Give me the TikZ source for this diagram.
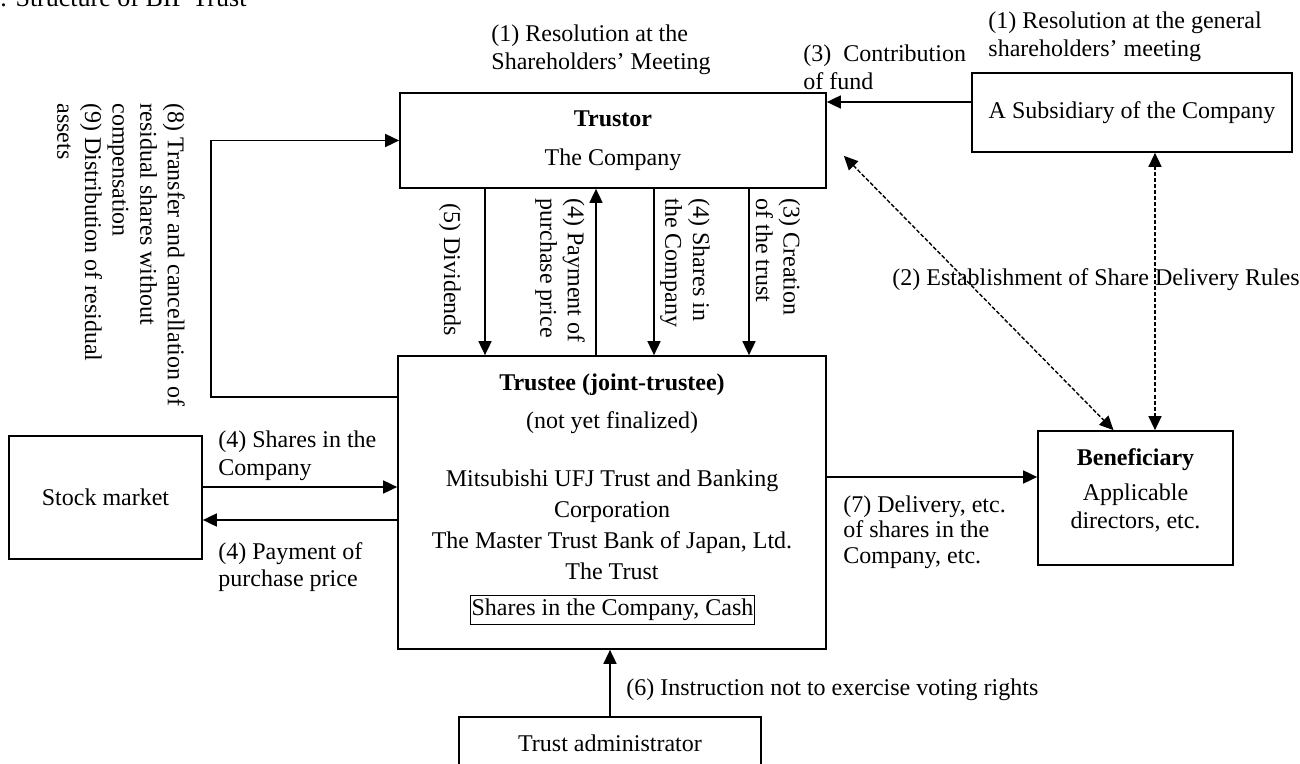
\documentclass[tikz,border=0pt]{standalone}
\usepackage{fontspec}
\setmainfont{Liberation Serif}
\usetikzlibrary{arrows.meta,positioning}

\begin{document}
\begin{tikzpicture}[x=0.5pt,y=-0.5pt,font=\fontsize{12}{13.8}\selectfont,
    box/.style={draw,line width=0.85pt,align=center,inner sep=0pt},
    arr/.style={-{Triangle[length=7pt,width=6.5pt]},line width=0.85pt},
    dasharr/.style={{Triangle[length=7pt,width=6.5pt]}-{Triangle[length=7pt,width=6.5pt]},
                    line width=0.7pt,dash pattern=on 2pt off 1pt},
    lbl/.style={align=left,inner sep=0pt}]

  \useasboundingbox (0,0) rectangle (1300,764);

  \node[anchor=base west,inner sep=0pt,font=\fontsize{13}{15}\selectfont] (title) at (0,7) {. Structure of BIP Trust};

  % boxes
  \node[box,minimum width=213pt,minimum height=47.5pt] (trustor) at (613,140.5) {\textbf{Trustor}\\[5.7pt]The Company};
  \node[box,minimum width=160pt,minimum height=39.5pt] (subsidiary) at (1132,112.5) {A Subsidiary of the Company};
  \node[box,minimum width=214pt,minimum height=146.5pt] (trustee) at (612,502.5) {};
  \node[anchor=north,align=center,inner sep=0pt,font=\fontsize{12}{15.5}\selectfont] (trusteetext) at (612,373)
       {\textbf{Trustee (joint-trustee)}\\[3.5pt](not yet finalized)\\[13.5pt]Mitsubishi UFJ Trust and Banking\\Corporation\\The Master Trust Bank of Japan, Ltd.\\The Trust};
  \node[box,inner xsep=0.5pt,inner ysep=1.75pt] (cash) at (612.5,610) {Shares in the Company, Cash};
  \node[box,minimum width=97.5pt,minimum height=67pt] (beneficiary) at (1135.5,498) {\textbf{Beneficiary}\\[4pt]Applicable\\directors, etc.\\[-4pt]};
  \node[box,minimum width=96.5pt,minimum height=61.5pt] (stock) at (105.5,497.5) {Stock market};
  \node[box,minimum width=151pt,minimum height=26pt] (admin) at (610,743) {Trust administrator};

  % labels
  \node[lbl,anchor=west] (resolution) at (491,50) {(1) Resolution at the\\Shareholders’ Meeting};
  \node[lbl,anchor=west] (contribution) at (803,67.5) {(3)~ Contribution\\of fund};
  \node[lbl,anchor=west] (general) at (988,36.5) {(1) Resolution at the general\\shareholders’ meeting};
  \node[lbl,anchor=west] (rules) at (892,280) {(2) Establishment of Share Delivery Rules};
  \node[lbl,anchor=west,rotate=-90] (residual) at (121,103)
       {(8) Transfer and cancellation of\\residual shares without\\compensation\\(9) Distribution of residual\\assets};
  \node[lbl,anchor=west,rotate=-90] (dividends) at (450,203) {(5) Dividends};
  \node[lbl,anchor=west,rotate=-90] (payment) at (560,198) {(4) Payment of\\purchase price};
  \node[lbl,anchor=west,rotate=-90] (shares) at (685,198) {(4) Shares in\\the Company};
  \node[lbl,anchor=west,rotate=-90] (creation) at (778,198) {(3) Creation\\of the trust};
  \node[lbl,anchor=west] (sharesmkt) at (218,456) {(4) Shares in the\\Company};
  \node[lbl,anchor=west] (paymentmkt) at (218,567) {(4) Payment of\\purchase price};
  \node[lbl,anchor=west,font=\fontsize{12}{12.8}\selectfont] (delivery) at (843,532) {(7) Delivery, etc.\\of shares in the\\Company, etc.};
  \node[lbl,anchor=west] (instruction) at (626,690) {(6) Instruction not to exercise voting rights};

  % connectors
  \coordinate (m1) at ([yshift=7.75pt]trustee.west);
  \coordinate (m2) at ([yshift=-8.75pt]trustee.west);
  \coordinate (d1) at ([yshift=12.75pt]trustee.east);
  \coordinate (f1) at ([yshift=5.25pt]subsidiary.west);
  \coordinate (r1) at ([shift={(8.5pt,16.5pt)}]trustor.south east);
  \coordinate (r2) at ([xshift=-11pt]beneficiary.north);
  \coordinate (v1) at ([xshift=11.5pt]subsidiary.south);

  \draw[arr] ([xshift=-64pt]trustor.south) -- ([xshift=-64pt]trustor.south |- trustee.north);
  \draw[arr] ([xshift=-8.5pt]trustor.south |- trustee.north) -- ([xshift=-8.5pt]trustor.south);
  \draw[arr] ([xshift=20.5pt]trustor.south) -- ([xshift=20.5pt]trustor.south |- trustee.north);
  \draw[arr] ([xshift=68pt]trustor.south) -- ([xshift=68pt]trustor.south |- trustee.north);
  \draw[arr] ([yshift=52.75pt]trustee.west) -- ++(-93pt,0) |- (trustor.west);
  \draw[arr] (stock.east |- m1) -- (m1);
  \draw[arr] (m2) -- (stock.east |- m2);
  \draw[arr] (d1) -- (d1 -| beneficiary.west);
  \draw[arr] (f1) -- (f1 -| trustor.east);
  \draw[arr] (admin.north) -- (admin.north |- trustee.south);
  \draw[dasharr] (r1) -- (r2);
  \draw[dasharr] (v1) -- (v1 |- beneficiary.north);
\end{tikzpicture}
\end{document}
